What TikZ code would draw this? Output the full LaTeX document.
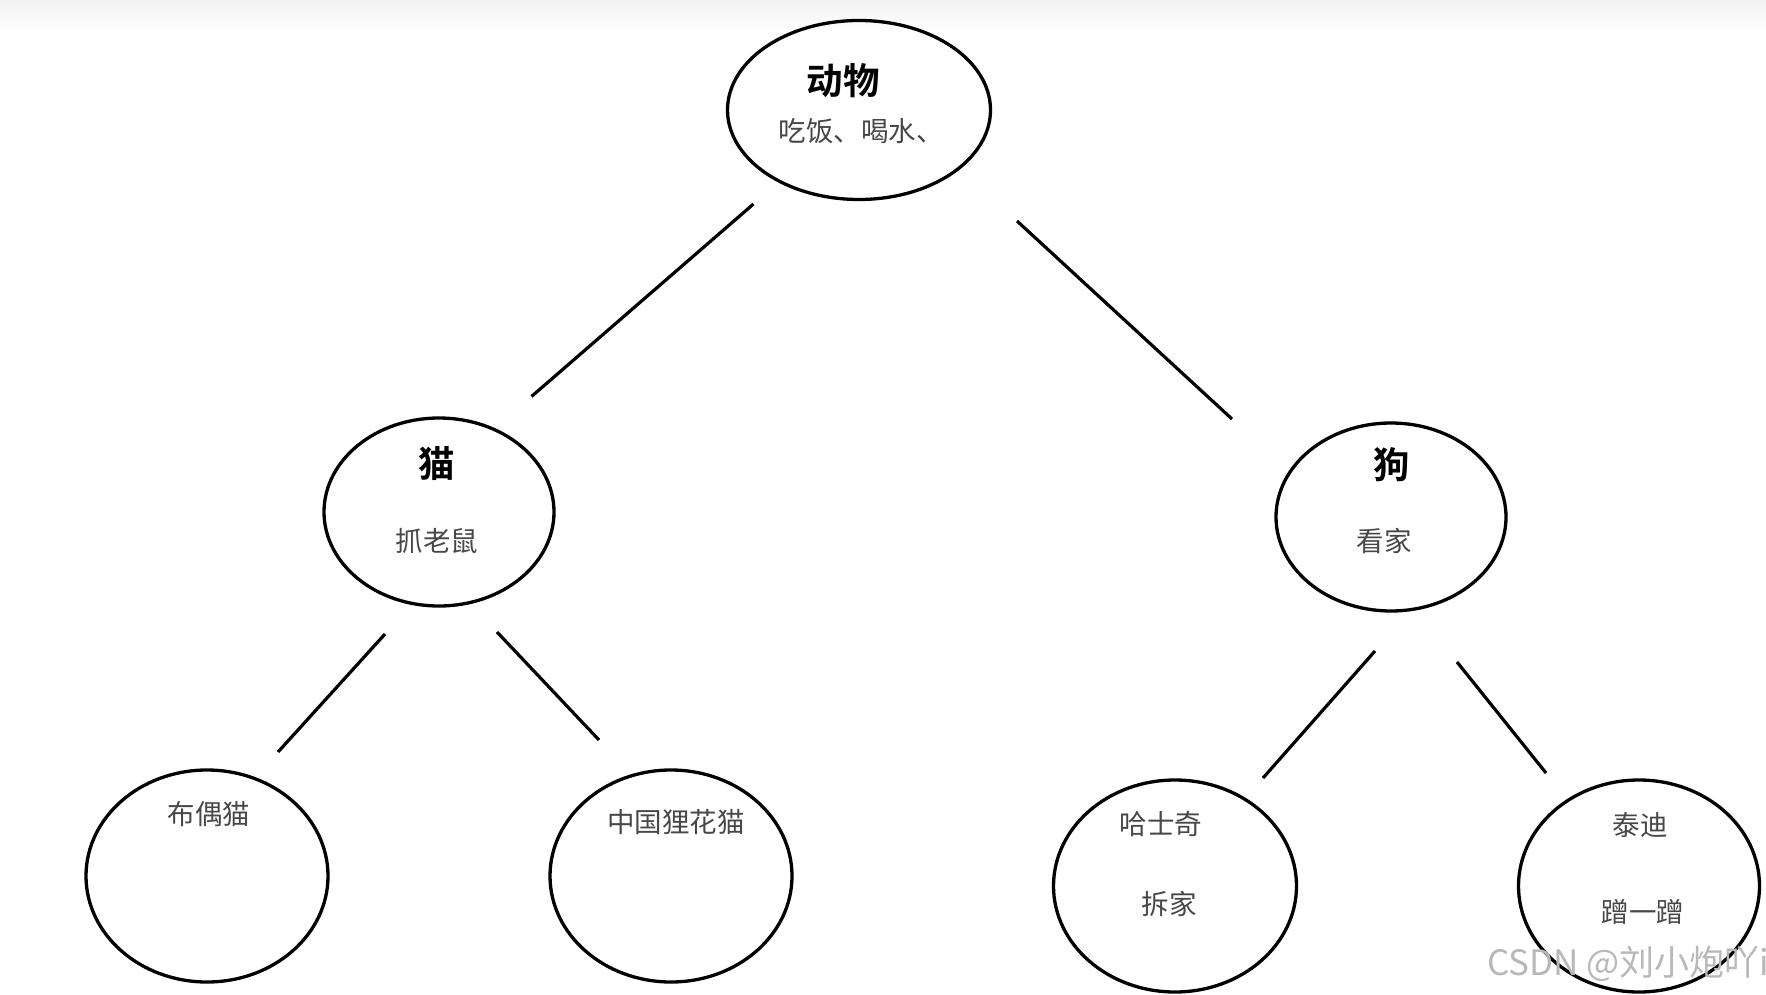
\documentclass[tikz,border=0pt]{standalone}
\usepackage{fontspec}
\usetikzlibrary{shapes.geometric}
\newfontfamily\cjk{Noto Sans CJK SC}[BoldFont={Noto Sans CJK SC Bold}]
\begin{document}
\begin{tikzpicture}[x=1pt,y=-1pt,
  oval/.style={draw, ellipse, line width=3.3pt, inner sep=0pt},
  title/.style={font=\cjk\bfseries\fontsize{36.5}{42}\selectfont, text=black, inner sep=0pt},
  sub/.style={font=\cjk\fontsize{27.5}{32}\selectfont, text=black!72, inner sep=0pt},
  link/.style={line width=3.2pt}]
\useasboundingbox (0,0) rectangle (1766,995);
\shade[top color=black!5, bottom color=white] (0,0) rectangle (1766,32);
% ellipses
\node[oval, minimum width=263pt, minimum height=179pt] (root) at (859,110) {};
\node[oval, minimum width=230pt, minimum height=188pt] (cat) at (439,512) {};
\node[oval, minimum width=230pt, minimum height=188pt] (dog) at (1391,517) {};
\node[oval, minimum width=242pt, minimum height=212pt] (ragdoll) at (207,876) {};
\node[oval, minimum width=242pt, minimum height=212pt] (lihua) at (671,876) {};
\node[oval, minimum width=243pt, minimum height=212pt] (husky) at (1175,886) {};
\node[oval, minimum width=241pt, minimum height=212pt] (teddy) at (1639,886) {};
% texts
\node[title] (t1) at (843,81) {动物};
\node[sub] (s1) at (861,131) {吃饭、喝水、};
\node[title] (t2) at (437,464) {猫};
\node[sub] (s2) at (437,541) {抓老鼠};
\node[title] (t3) at (1392,465) {狗};
\node[sub] (s3) at (1384,541) {看家};
\node[sub] (s4) at (209,814) {布偶猫};
\node[sub] (s5) at (676,822) {中国狸花猫};
\node[sub] (s6) at (1161,824) {哈士奇};
\node[sub] (s7) at (1169,904) {拆家};
\node[sub] (s8) at (1640,825) {泰迪};
\node[sub] (s9) at (1643,912) {蹭一蹭};
% connector end points
\coordinate (rc1) at (753.5,204);
\coordinate (rc2) at (531.5,396.5);
\coordinate (rd1) at (1017,221);
\coordinate (rd2) at (1232,419);
\coordinate (cr1) at (385,634);
\coordinate (cr2) at (278,752);
\coordinate (cl1) at (497,632);
\coordinate (cl2) at (599,740);
\coordinate (dh1) at (1375,651);
\coordinate (dh2) at (1263,778);
\coordinate (dt1) at (1457,662);
\coordinate (dt2) at (1546,773);
\draw[link] (rc1) -- (rc2);
\draw[link] (rd1) -- (rd2);
\draw[link] (cr1) -- (cr2);
\draw[link] (cl1) -- (cl2);
\draw[link] (dh1) -- (dh2);
\draw[link] (dt1) -- (dt2);
% watermark
\begin{scope}
\clip (0,0) rectangle (1766,995);
\node[anchor=west, font=\cjk\fontsize{35}{40}\selectfont, text=black!28, inner sep=0pt] (wm) at (1487,964) {CSDN @刘小炮吖i};
\end{scope}
\end{tikzpicture}
\end{document}
